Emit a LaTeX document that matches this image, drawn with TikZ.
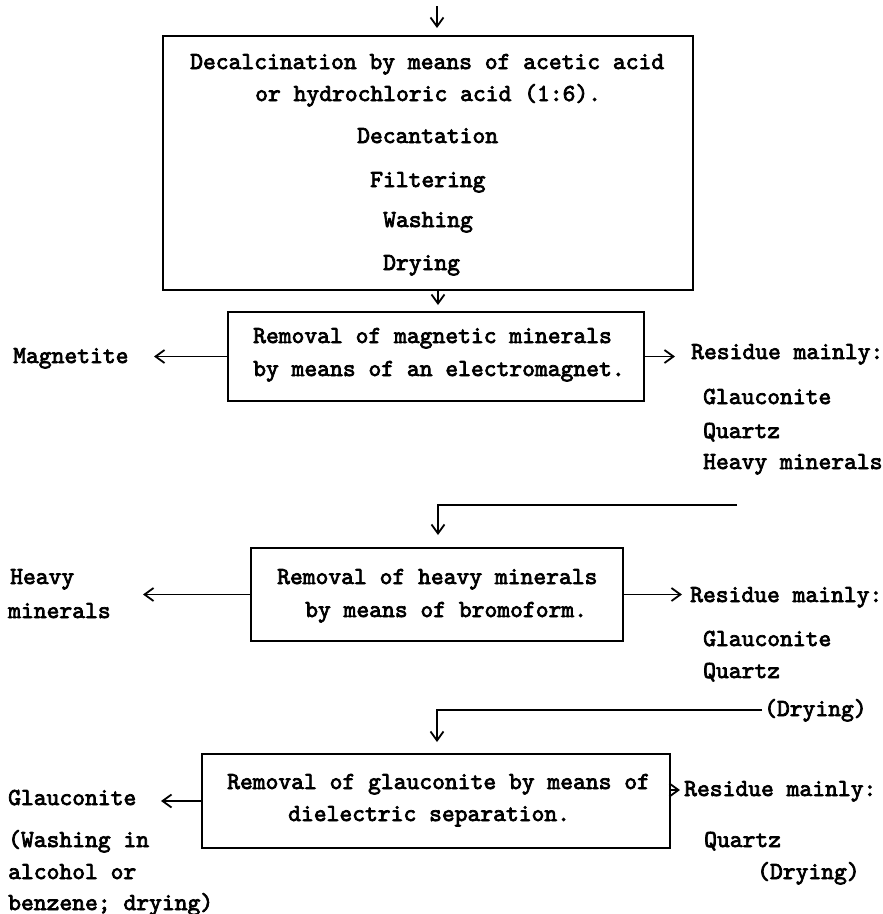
\documentclass[tikz,border=0pt]{standalone}
\usepackage{fontspec}
\usepackage{tikz}
\usetikzlibrary{arrows.meta}
\newfontfamily\typewr{lmmono10-regular.otf}[FakeBold=3]

\begin{document}
\begin{tikzpicture}[x=1pt, y=-1pt,
    stage/.style={draw, line width=2pt, inner sep=0pt},
    txt/.style={anchor=base west, inner sep=0pt,
      font=\typewr\fontsize{24.4}{30}\selectfont},
    flow/.style={line width=1.8pt, -{Straight Barb[length=9pt, width=13pt, line width=1.8pt]}},
    feed/.style={line width=1.8pt}]
  \useasboundingbox (0,0) rectangle (883,914);

  % Блоки процесса
  \node[stage, minimum width=530pt, minimum height=254pt] (decalc) at (428,163) {};
  \node[stage, minimum width=416pt, minimum height=89pt] (magnet) at (436,356.5) {};
  \node[stage, minimum width=372pt, minimum height=93pt] (bromo) at (437,594.5) {};
  \node[stage, minimum width=468pt, minimum height=94pt] (dielec) at (436,801) {};

  % Текст в первом блоке
  \node[txt] (dc1) at (190,69) {Decalcination by means of acetic acid};
  \node[txt] (dc2) at (255,101) {or hydrochloric acid (1:6).};
  \node[txt] (dc3) at (357,143) {Decantation};
  \node[txt] (dc4) at (370,187) {Filtering};
  \node[txt] (dc5) at (383,227) {Washing};
  \node[txt] (dc6) at (383,270) {Drying};

  % Магнитная сепарация
  \node[txt] (mg1) at (253,343) {Removal of magnetic minerals};
  \node[txt] (mg2) at (253,376) {by means of an electromagnet.};
  \node[txt] (magnetite) at (13,363) {Magnetite};
  \node[txt] (res1) at (691,359) {Residue mainly:};
  \node[txt] (res1a) at (703,404) {Glauconite};
  \node[txt] (res1b) at (703,438) {Quartz};
  \node[txt] (res1c) at (703,469) {Heavy minerals};

  % Бромоформ
  \node[txt] (br1) at (277,584) {Removal of heavy minerals};
  \node[txt] (br2) at (305,617) {by means of bromoform.};
  \node[txt] (heavy1) at (10,584) {Heavy};
  \node[txt] (heavy2) at (8,618) {minerals};
  \node[txt] (res2) at (690,602) {Residue mainly:};
  \node[txt] (res2a) at (703,646) {Glauconite};
  \node[txt] (res2b) at (703,678) {Quartz};
  \node[txt] (dry1) at (764,716) {(Drying)};

  % Диэлектрическая сепарация
  \node[txt] (de1) at (227,789) {Removal of glauconite by means of};
  \node[txt] (de2) at (288,821) {dielectric separation.};
  \node[txt] (glauc) at (8,805) {Glauconite};
  \node[txt] (gl1) at (8,847) {(Washing in};
  \node[txt] (gl2) at (8,879) {alcohol or};
  \node[txt] (gl3) at (8,910) {benzene; drying)};
  \node[txt] (res3) at (684,796) {Residue mainly:};
  \node[txt] (res3a) at (704,847) {Quartz};
  \node[txt] (dry2) at (757,879) {(Drying)};

  % Концы стрелок
  \coordinate (in0) at (437,6);
  \coordinate (in1) at (437,28);
  \coordinate (out1) at (438,305);
  \coordinate (mgL) at (154,356.5);
  \coordinate (mgR) at (675,356.5);
  \coordinate (back1) at (737,505);
  \coordinate (down1) at (438,535);
  \coordinate (brL) at (143,594.5);
  \coordinate (brR) at (682,594.5);
  \coordinate (back2) at (762,710);
  \coordinate (down2) at (437,742);
  \coordinate (deL) at (161,801);
  \coordinate (deR) at (680,790);

  % Стрелки
  \draw[flow] (in0) -- (in1);
  \draw[flow] (decalc.south -| out1) -- (out1);
  \draw[flow] (magnet.west) -- (mgL);
  \draw[flow] (magnet.east) -- (mgR);
  \draw[flow] (back1) -| (down1);
  \draw[flow] (bromo.west) -- (brL);
  \draw[flow] (bromo.east) -- (brR);
  \draw[flow] (back2) -| (down2);
  \draw[flow] (dielec.west) -- (deL);
  \draw[flow] (dielec.east |- deR) -- (deR);
\end{tikzpicture}
\end{document}
